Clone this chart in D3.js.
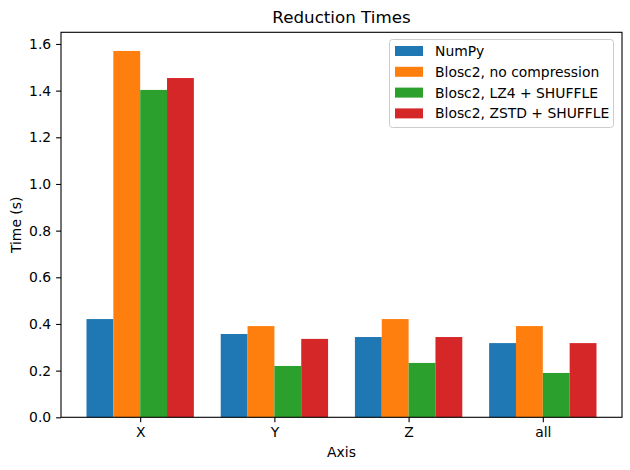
<!DOCTYPE html>
<html><head><meta charset="utf-8">
<script src="https://cdn.jsdelivr.net/npm/d3@7"></script>
<style>body{margin:0;background:#fff}svg{display:block}text{font-family:"DejaVu Sans",sans-serif;fill:#000}</style>
</head><body><svg id="c" width="630" height="470"></svg>
<script>
const categories = ["X", "Y", "Z", "all"];
const seriesNames = ["NumPy", "Blosc2, no compression", "Blosc2, LZ4 + SHUFFLE", "Blosc2, ZSTD + SHUFFLE"];
const numpy = [0.421, 0.357, 0.344, 0.318];
const noComp = [1.570, 0.391, 0.421, 0.391];
const lz4 = [1.403, 0.220, 0.233, 0.190];
const zstd = [1.454, 0.336, 0.344, 0.318];
const yTicks = [0, 0.2, 0.4, 0.6, 0.8, 1.0, 1.2, 1.4, 1.6];
const colors = ["#1f77b4", "#ff7f0e", "#2ca02c", "#d62728"];
const series = [numpy, noComp, lz4, zstd];

const svg = d3.select("#c");
const L = 61, R = 622, T = 32.3, B = 417.3;
const barW = 0.2;
const x = d3.scaleLinear().domain([-0.59, 3.59]).range([L, R]);
const y = d3.scaleLinear().domain([0, 1.65]).range([B, T]);
const fs = 13.9;

series.forEach((vals, j) => {
  svg.append("g").selectAll("rect").data(vals).join("rect")
    .attr("x", (d, i) => x(i + (j - 2) * barW))
    .attr("width", x(barW) - x(0))
    .attr("y", d => y(d))
    .attr("height", d => y(0) - y(d))
    .attr("fill", colors[j]);
});

// axes
const xa = svg.append("g").attr("transform", `translate(0,${B})`)
  .call(d3.axisBottom(x).tickValues(categories.map((c, i) => i)).tickFormat(i => categories[i]).tickSize(4.9).tickPadding(4.9));
const ya = svg.append("g").attr("transform", `translate(${L},0)`)
  .call(d3.axisLeft(y).tickValues(yTicks).tickFormat(d3.format(".1f")).tickSize(4.9).tickPadding(4.9));
[xa, ya].forEach(a => {
  a.select(".domain").remove();
  a.selectAll("line").attr("stroke", "#000").attr("stroke-width", 1.1);
  a.selectAll("text").attr("font-size", fs).attr("font-family", "DejaVu Sans");
});
svg.append("rect").attr("x", L).attr("y", T).attr("width", R - L).attr("height", B - T)
  .attr("fill", "none").attr("stroke", "#000").attr("stroke-width", 1.1);

svg.append("text").attr("x", (L + R) / 2).attr("y", 23).attr("text-anchor", "middle").attr("font-size", 16.7).text("Reduction Times");
svg.append("text").attr("x", (L + R) / 2).attr("y", 457).attr("text-anchor", "middle").attr("font-size", fs).text("Axis");
svg.append("text").attr("transform", `translate(21,${(T + B) / 2}) rotate(-90)`).attr("text-anchor", "middle").attr("font-size", fs).text("Time (s)");

// legend
const lg = svg.append("g");
lg.append("rect").attr("x", 389.5).attr("y", 39.5).attr("width", 224).attr("height", 88).attr("rx", 3)
  .attr("fill", "#fff").attr("fill-opacity", 0.8).attr("stroke", "#ccc");
seriesNames.forEach((n, j) => {
  const cy = 51 + j * 20.8;
  lg.append("rect").attr("x", 395).attr("y", cy - 5).attr("width", 28).attr("height", 10).attr("fill", colors[j]);
  lg.append("text").attr("x", 435).attr("y", cy + 5).attr("font-size", fs).text(n);
});
</script></body></html>
